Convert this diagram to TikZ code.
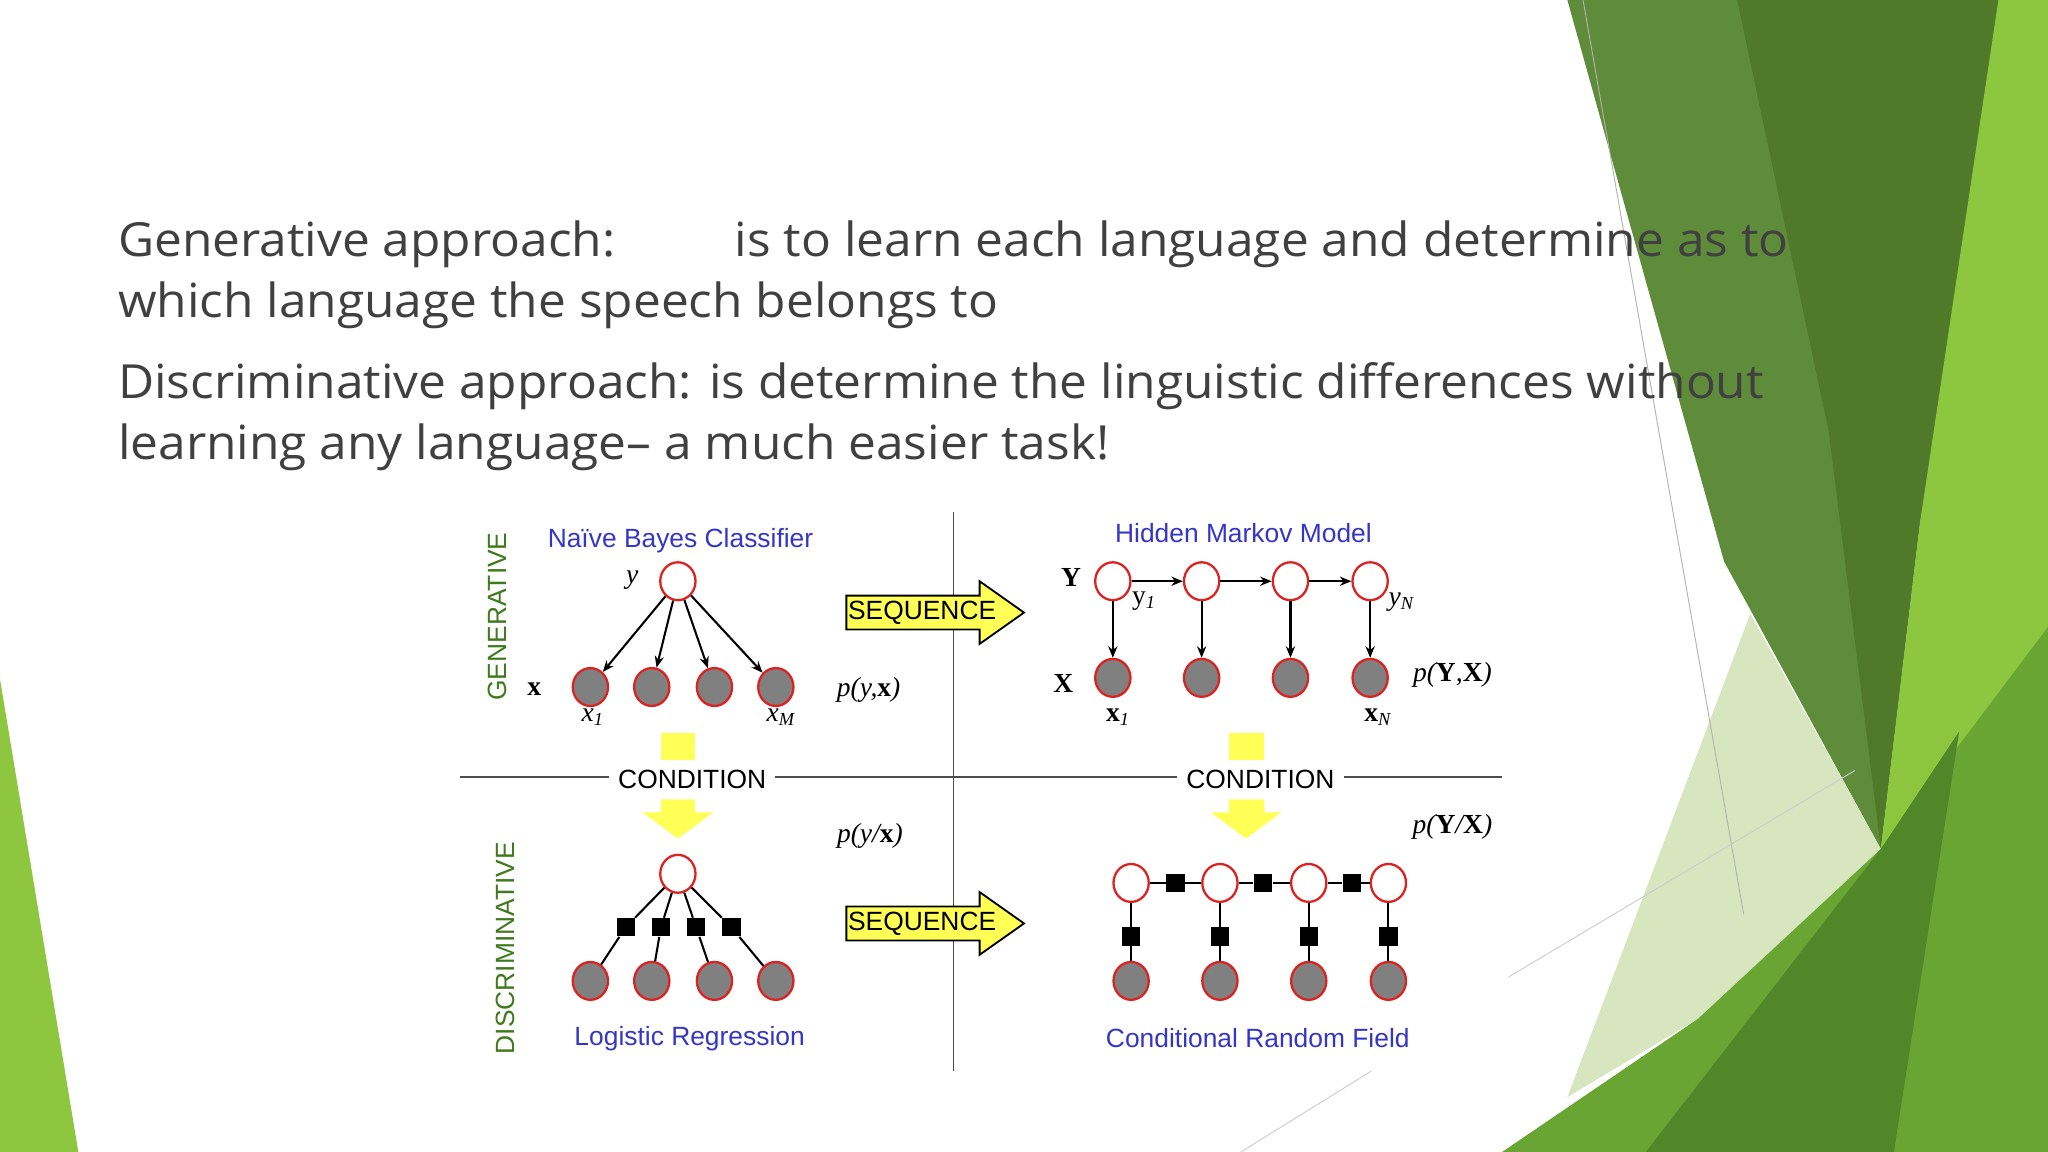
\documentclass[tikz,border=0pt]{standalone}
\usepackage{fontspec}
\setmainfont{Liberation Serif}
\newfontfamily\bodyfont{Open Sans}
\newfontfamily\arialf{Liberation Sans}
\usetikzlibrary{shapes.geometric,arrows.meta}
\definecolor{nodered}{HTML}{DD2222}
\definecolor{nodegray}{HTML}{808080}
\definecolor{lblue}{HTML}{3535C8}
\definecolor{lgreen}{HTML}{3F7A1E}
\definecolor{yel}{HTML}{FFFF55}
\tikzset{
  hid/.style={ellipse,draw=nodered,fill=white,line width=1pt,minimum width=0.54cm,minimum height=0.58cm,inner sep=0pt},
  obs/.style={ellipse,draw=nodered,fill=nodegray,line width=1pt,minimum width=0.54cm,minimum height=0.58cm,inner sep=0pt},
  fac/.style={rectangle,fill=black,minimum size=0.28cm,inner sep=0pt},
  edge/.style={line width=0.9pt},
  arr/.style={line width=0.9pt,-{Stealth[length=5pt,width=4pt]}},
  ttl/.style={font=\arialf\fontsize{11.5pt}{13pt}\selectfont,text=lblue,inner sep=0pt},
  side/.style={font=\arialf\fontsize{11.5pt}{13pt}\selectfont,text=lgreen,rotate=90,inner sep=0pt},
  mth/.style={font=\fontsize{12pt}{13pt}\selectfont,inner sep=0pt},
  cond/.style={font=\arialf\fontsize{11.5pt}{13pt}\selectfont,fill=white,inner xsep=4pt,inner ysep=1pt},
  body/.style={font=\bodyfont\fontsize{20.5pt}{24pt}\selectfont,text=black!75,anchor=base west,inner sep=0pt,xscale=1.055,transform shape},
  yarrow/.style={fill=yel,draw=black,line width=0.8pt}
}
\begin{document}
\begin{tikzpicture}[x=0.02cm,y=-0.02cm]
\useasboundingbox (0,0) rectangle (1568,882);
\fill[white] (0,0) rectangle (1568,882);
% background decoration
\fill[color={rgb,255:red,95;green,140;blue,58}] (1200,0)--(1540,0)--(1470,400)--(1440,650)--(1320,430)--cycle;
\fill[color={rgb,255:red,80;green,122;blue,42}] (1330,0)--(1540,0)--(1470,400)--(1440,650)--(1400,330)--cycle;
\fill[color={rgb,255:red,141;green,198;blue,63}] (1530,0)--(1568,0)--(1568,882)--(1420,882)--(1440,650)--(1470,400)--cycle;
\fill[color={rgb,255:red,215;green,230;blue,190}] (1340,470)--(1440,650)--(1300,780)--(1200,840)--cycle;
\fill[color={rgb,255:red,105;green,165;blue,50}] (1150,882)--(1300,780)--(1440,650)--(1568,480)--(1568,882)--cycle;
\fill[color={rgb,255:red,80;green,135;blue,40}] (1260,882)--(1440,650)--(1500,560)--(1450,882)--cycle;
\fill[color={rgb,255:red,141;green,198;blue,63}] (0,520)--(60,882)--(0,882)--cycle;
\draw[black!30,line width=0.4pt] (1212,0)--(1335,700);
\draw[black!20,line width=0.4pt] (1155,748)--(1420,590);
\draw[black!20,line width=0.4pt] (950,882)--(1050,820);
% text
\node[body] (t1) at (90,196) {Generative approach:};
\node[body] (t1b) at (562,196) {is to learn each language and determine as to};
\node[body] (t2) at (90,243) {which language the speech belongs to};
\node[body] (t3) at (90,305) {Discriminative approach: is determine the linguistic differences without};
\node[body] (t4) at (90,352) {learning any language– a much easier task!};
% axes
\coordinate (vt) at (730,392); \coordinate (vb) at (730,820);
\coordinate (hl) at (352,595); \coordinate (hr) at (1150,595);
\draw[black!70,line width=0.6pt] (vt)--(vb);
\draw[black!70,line width=0.6pt] (hl)--(hr);
\node[side] (gen) at (381,472) {GENERATIVE};
\node[side] (dis) at (387,726) {DISCRIMINATIVE};
% condition arrows
\fill[yarrow,draw=none] (506,561) rectangle (532,582);
\fill[yarrow,draw=none] (941,561) rectangle (968,582);
\fill[yarrow,draw=none] (506,612)--(532,612)--(532,622)--(546,622)--(519,642)--(492,622)--(506,622)--cycle;
\fill[yarrow,draw=none] (941,612)--(968,612)--(968,622)--(981,622)--(954,642)--(927,622)--(941,622)--cycle;
\node[cond] (c1) at (530,597) {CONDITION};
\node[cond] (c2) at (965,597) {CONDITION};
% sequence arrows
\foreach \yy/\nm in {469/s1,707/s2}{
  \draw[yarrow] (648,\yy-13)--(750,\yy-13)--(750,\yy-24)--(784,\yy)--(750,\yy+24)--(750,\yy+13)--(648,\yy+13)--cycle;
  \node[font=\arialf\fontsize{11.5pt}{13pt}\selectfont,inner sep=0pt] (\nm) at (706,\yy) {SEQUENCE};
}
% Naive Bayes
\node[ttl] (nbt) at (521,414) {Naïve Bayes Classifier};
\node[hid] (ny) at (519,445) {};
\foreach \x [count=\i] in {452,499,547,594}{
  \node[obs] (nx\i) at (\x,526) {};
  \draw[arr] (ny) -- (nx\i);
}
\node[mth] (ly) at (484,444) {\itshape y};
\node[mth] (lx) at (409,528) {\bfseries x};
\node[mth] (lx1) at (454,549) {\itshape x\textsubscript{1}};
\node[mth] (lxm) at (598,549) {\itshape x\textsubscript{M}};
\node[mth] (pyx) at (665,528) {\itshape p(y,\textbf{\upshape x})};
% HMM
\node[ttl] (hmt) at (952,408) {Hidden Markov Model};
\foreach \x [count=\i] in {852,920,988,1049}{
  \node[hid] (hy\i) at (\x,445) {};
  \node[obs] (hx\i) at (\x,519) {};
  \draw[arr] (hy\i) -- (hx\i);
}
\draw[arr] (hy1)--(hy2); \draw[arr] (hy2)--(hy3); \draw[arr] (hy3)--(hy4);
\node[mth] (lY) at (820,442) {\bfseries Y};
\node[mth] (lX) at (814,523) {\bfseries X};
\node[mth] (ly1) at (876,460) {y\textsubscript{\itshape 1}};
\node[mth] (lyn) at (1073,461) {\itshape y\textsubscript{N}};
\node[mth] (lhx1) at (856,549) {\textbf{x}\textsubscript{\itshape 1}};
\node[mth] (lhxn) at (1055,549) {\textbf{x}\textsubscript{\itshape N}};
\node[mth] (pYX) at (1112,517) {\itshape p(\textbf{\upshape Y},\textbf{\upshape X})};
% Logistic regression
\node[mth] (pyx2) at (666,640) {\itshape p(y/\textbf{\upshape x})};
\node[hid] (ly0) at (519,669) {};
\foreach \x/\f [count=\i] in {452/479,499/506,547/533,594/560}{
  \node[obs] (lxx\i) at (\x,751) {};
  \node[fac] (lf\i) at (\f,710) {};
  \draw[edge] (ly0) -- (lf\i) -- (lxx\i);
}
\node[ttl] (lrt) at (528,795) {Logistic Regression};
% CRF
\node[mth] (pYX2) at (1112,633) {\itshape p(\textbf{\upshape Y}/\textbf{\upshape X})};
\foreach \x [count=\i] in {866,934,1002,1063}{
  \node[hid] (cy\i) at (\x,676) {};
  \node[obs] (cx\i) at (\x,751) {};
  \node[fac] (cv\i) at (\x,717) {};
  \draw[edge] (cy\i) -- (cv\i) -- (cx\i);
}
\node[fac] (ch1) at (900,676) {};
\node[fac] (ch2) at (967,676) {};
\node[fac] (ch3) at (1035,676) {};
\draw[edge] (cy1)--(ch1)--(cy2)--(ch2)--(cy3)--(ch3)--(cy4);
\node[ttl] (crt) at (963,795) {Conditional Random Field};
\end{tikzpicture}
\end{document}
